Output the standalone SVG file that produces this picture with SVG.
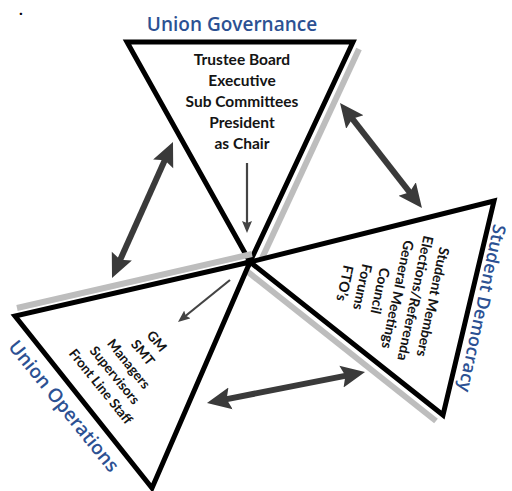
<svg xmlns="http://www.w3.org/2000/svg" width="512" height="491" viewBox="0 0 512 491">
  <defs>
    <style>
      .tri { fill: #ffffff; stroke: #000000; stroke-width: 5; stroke-linejoin: miter; }
      .shadow { fill: none; stroke: #bdbdbd; stroke-width: 6; stroke-linecap: butt; }
      .title { font-family: "Open Sans", "Liberation Sans", sans-serif; font-weight: 600; fill: #2c5193; text-anchor: middle; }
      .body { font-family: Lato, "Liberation Sans", sans-serif; font-weight: 700; fill: #141414; text-anchor: middle; }
      .big { fill: none; stroke: #3a3a3a; stroke-width: 6; marker-start: url(#bigHead); marker-end: url(#bigHead); }
      .thin { fill: none; stroke: #444444; stroke-width: 2.2; marker-end: url(#thinHead); }
    </style>
    <marker id="bigHead" markerUnits="userSpaceOnUse" markerWidth="24" markerHeight="24" viewBox="0 0 24 24" refX="14" refY="12" orient="auto-start-reverse">
      <path d="M0,1 L24,12 L0,23 L4,12 z" fill="#3a3a3a"/>
    </marker>
    <marker id="thinHead" markerUnits="userSpaceOnUse" markerWidth="12" markerHeight="10" viewBox="0 0 12 10" refX="8" refY="5" orient="auto">
      <path d="M0,0 L12,5 L0,10 L2,5 z" fill="#444444"/>
    </marker>
  </defs>

  <rect width="512" height="491" fill="#ffffff"/>
  <text x="19" y="15" font-family="Lato, sans-serif" font-weight="700" font-size="16" fill="#000">.</text>

  <!-- Union Governance -->
  <g id="union-governance">
    <line class="shadow" x1="359" y1="49" x2="257" y2="269"/>
    <polygon class="tri" points="127,42 353,42 250,262"/>
    <text class="title" x="232" y="31" font-size="19">Union Governance</text>
    <g class="body" font-size="15.5">
      <text x="242" y="65">Trustee Board</text>
      <text x="242" y="86">Executive</text>
      <text x="242" y="107">Sub Committees</text>
      <text x="242" y="128">President</text>
      <text x="242" y="149">as Chair</text>
    </g>
  </g>

  <!-- Student Democracy -->
  <g id="student-democracy">
    <line class="shadow" x1="243" y1="268" x2="436" y2="421"/>
    <polygon class="tri" points="250,262 494,201 443,415"/>
    <text class="title" font-size="18" transform="translate(476,307) rotate(102)">Student Democracy</text>
    <g class="body" font-size="14" transform="translate(433,302) rotate(102)">
      <text x="0" y="5">Student Members</text>
      <text x="0" y="23">Elections/Referenda</text>
      <text x="0" y="41">General Meetings</text>
      <text x="0" y="59">Council</text>
      <text x="0" y="77">Forums</text>
      <text x="0" y="95">FTO’s</text>
    </g>
  </g>

  <!-- Union Operations -->
  <g id="union-operations">
    <line class="shadow" x1="17" y1="308" x2="252" y2="254"/>
    <polygon class="tri" points="250,262 15,316 152,488"/>
    <text class="title" font-size="19" transform="translate(58.8,410.2) rotate(51)">Union Operations</text>
    <g class="body" font-size="13.5" transform="translate(157,341) rotate(51)">
      <text x="0" y="5">GM</text>
      <text x="0" y="23">SMT</text>
      <text x="0" y="41">Managers</text>
      <text x="0" y="59">Supervisors</text>
      <text x="0" y="77">Front Line Staff</text>
    </g>
  </g>

  <!-- links between the three bodies -->
  <g id="connectors">
    <line class="big" x1="116.1" y1="268.9" x2="168.9" y2="151.1"/>
    <line class="big" x1="346.2" y1="110.9" x2="415.8" y2="200.1"/>
    <line class="big" x1="216.8" y1="401.1" x2="355.2" y2="373.9"/>
    <line class="thin" x1="247" y1="163" x2="247" y2="229"/>
    <line class="thin" x1="230" y1="280" x2="181.1" y2="319.5"/>
  </g>
</svg>
